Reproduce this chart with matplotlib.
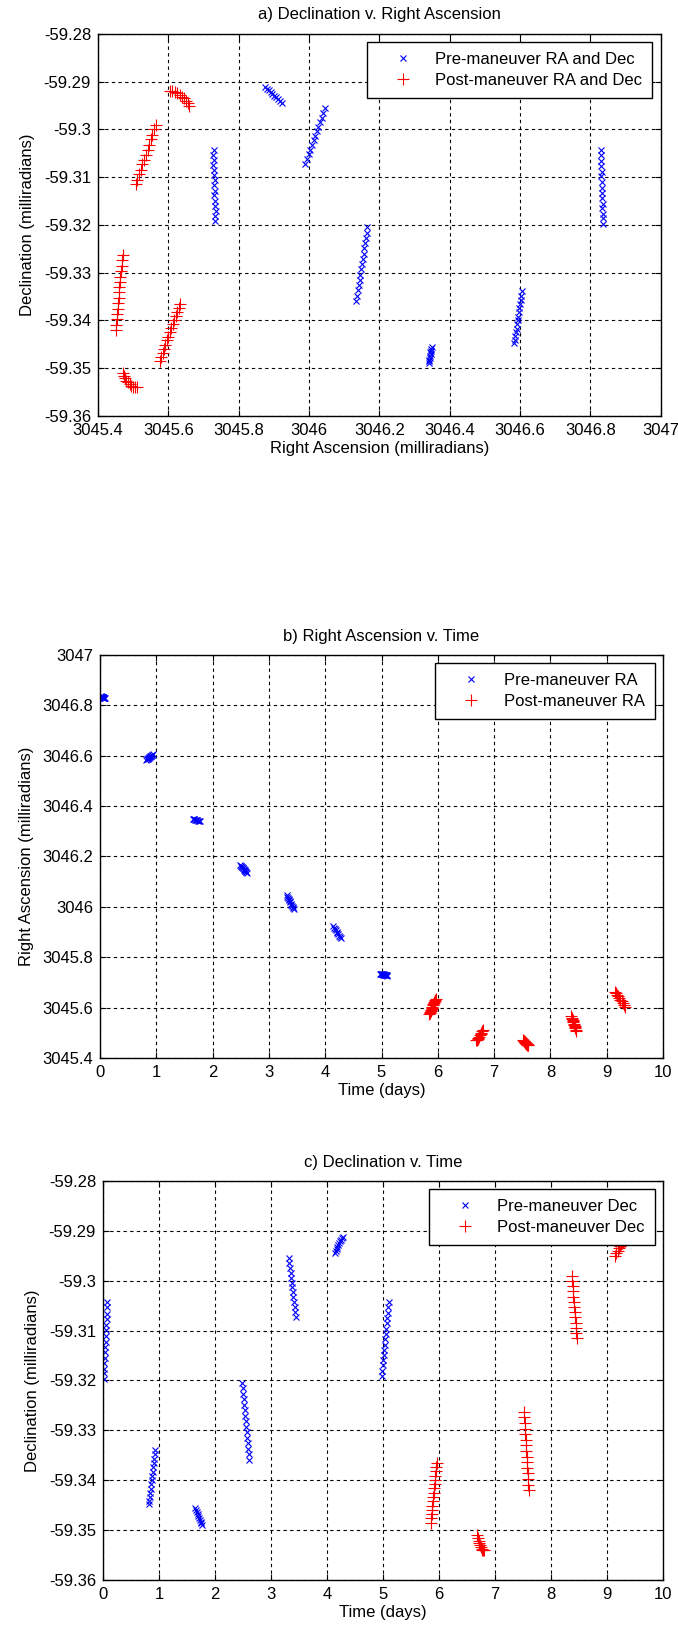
import numpy as np
import matplotlib
matplotlib.use('Agg')
import matplotlib.pyplot as plt
from matplotlib.ticker import MultipleLocator, FuncFormatter

plt.rcParams['font.family'] = ['Liberation Sans', 'DejaVu Sans']

# pre-maneuver passes (time in days, RA and Dec in milliradians)
pre_t = [
    0.010, 0.015, 0.020, 0.025, 0.030, 0.035, 0.040, 0.045, 0.050, 0.055, 0.060, 0.065, 0.070, 0.075, 0.080,
    0.820, 0.829, 0.838, 0.847, 0.856, 0.865, 0.874, 0.883, 0.892, 0.901, 0.910, 0.919, 0.928, 0.937,
    1.650, 1.663, 1.677, 1.690, 1.703, 1.717, 1.730, 1.743, 1.757, 1.770,
    2.490, 2.499, 2.507, 2.516, 2.524, 2.533, 2.541, 2.550, 2.559, 2.567, 2.576, 2.584, 2.593, 2.601, 2.610,
    3.320, 3.330, 3.340, 3.350, 3.360, 3.370, 3.380, 3.390, 3.400, 3.410, 3.420, 3.430, 3.440,
    4.140, 4.156, 4.171, 4.187, 4.202, 4.218, 4.233, 4.249, 4.264, 4.280,
    4.980, 4.989, 4.997, 5.006, 5.014, 5.023, 5.031, 5.040, 5.049, 5.057, 5.066, 5.074, 5.083, 5.091, 5.100,
]
pre_ra = [
    3046.836, 3046.835, 3046.836, 3046.834, 3046.835, 3046.833, 3046.834, 3046.832, 3046.833, 3046.831,
    3046.832, 3046.830, 3046.831, 3046.829, 3046.830,
    3046.584, 3046.586, 3046.587, 3046.589, 3046.590, 3046.592, 3046.593, 3046.595, 3046.597, 3046.598,
    3046.600, 3046.602, 3046.603, 3046.605,
    3046.349, 3046.347, 3046.348, 3046.345, 3046.346, 3046.343, 3046.344, 3046.341, 3046.342, 3046.340,
    3046.166, 3046.164, 3046.162, 3046.159, 3046.157, 3046.155, 3046.153, 3046.150, 3046.148, 3046.146,
    3046.144, 3046.141, 3046.139, 3046.137, 3046.135,
    3046.046, 3046.041, 3046.037, 3046.032, 3046.027, 3046.023, 3046.018, 3046.013, 3046.009, 3046.004,
    3045.999, 3045.995, 3045.990,
    3045.922, 3045.917, 3045.912, 3045.907, 3045.901, 3045.896, 3045.891, 3045.886, 3045.880, 3045.875,
    3045.734, 3045.733, 3045.735, 3045.732, 3045.733, 3045.731, 3045.733, 3045.730, 3045.732, 3045.729,
    3045.731, 3045.728, 3045.730, 3045.727, 3045.729,
]
pre_dec = [
    -59.3198, -59.3186, -59.3177, -59.3165, -59.3156, -59.3143, -59.3133, -59.3122, -59.3110, -59.3098,
    -59.3089, -59.3076, -59.3066, -59.3053, -59.3042,
    -59.3448, -59.3441, -59.3433, -59.3425, -59.3417, -59.3408, -59.3400, -59.3392, -59.3383, -59.3374,
    -59.3366, -59.3357, -59.3348, -59.3339,
    -59.3455, -59.3459, -59.3463, -59.3467, -59.3471, -59.3475, -59.3479, -59.3483, -59.3486, -59.3490,
    -59.3205, -59.3216, -59.3227, -59.3238, -59.3249, -59.3260, -59.3271, -59.3282, -59.3293, -59.3304,
    -59.3315, -59.3326, -59.3337, -59.3348, -59.3359,
    -59.2955, -59.2965, -59.2975, -59.2984, -59.2994, -59.3004, -59.3013, -59.3023, -59.3033, -59.3043,
    -59.3052, -59.3062, -59.3072,
    -59.2945, -59.2941, -59.2937, -59.2933, -59.2929, -59.2925, -59.2921, -59.2918, -59.2915, -59.2912,
    -59.3192, -59.3181, -59.3170, -59.3160, -59.3149, -59.3138, -59.3128, -59.3117, -59.3106, -59.3096,
    -59.3085, -59.3074, -59.3064, -59.3053, -59.3042,
]

# post-maneuver passes
post_t = [
    5.850, 5.858, 5.866, 5.874, 5.881, 5.889, 5.897, 5.905, 5.913, 5.921, 5.929, 5.936, 5.944, 5.952, 5.960,
    6.680, 6.693, 6.707, 6.720, 6.733, 6.747, 6.760, 6.773, 6.787, 6.800,
    7.520, 7.526, 7.531, 7.537, 7.543, 7.549, 7.554, 7.560, 7.566, 7.571, 7.577, 7.583, 7.589, 7.594, 7.600,
    8.370, 8.378, 8.385, 8.393, 8.400, 8.408, 8.415, 8.423, 8.430, 8.438, 8.445, 8.453, 8.460,
    9.150, 9.169, 9.188, 9.207, 9.226, 9.244, 9.263, 9.282, 9.301, 9.320,
]
post_ra = [
    3045.576, 3045.580, 3045.584, 3045.588, 3045.592, 3045.596, 3045.600, 3045.604, 3045.609, 3045.613,
    3045.617, 3045.621, 3045.625, 3045.629, 3045.633,
    3045.470, 3045.473, 3045.477, 3045.481, 3045.485, 3045.490, 3045.495, 3045.500, 3045.506, 3045.512,
    3045.470, 3045.469, 3045.467, 3045.466, 3045.464, 3045.463, 3045.461, 3045.460, 3045.459, 3045.457,
    3045.456, 3045.454, 3045.453, 3045.451, 3045.450,
    3045.565, 3045.560, 3045.555, 3045.551, 3045.546, 3045.541, 3045.536, 3045.531, 3045.526, 3045.522,
    3045.517, 3045.512, 3045.507,
    3045.660, 3045.656, 3045.651, 3045.645, 3045.639, 3045.632, 3045.625, 3045.618, 3045.611, 3045.604,
]
post_dec = [
    -59.3485, -59.3476, -59.3468, -59.3459, -59.3451, -59.3442, -59.3434, -59.3425, -59.3416, -59.3408,
    -59.3399, -59.3391, -59.3382, -59.3374, -59.3365,
    -59.3510, -59.3516, -59.3521, -59.3526, -59.3530, -59.3534, -59.3537, -59.3539, -59.3540, -59.3540,
    -59.3263, -59.3274, -59.3285, -59.3297, -59.3308, -59.3319, -59.3330, -59.3341, -59.3353, -59.3364,
    -59.3375, -59.3386, -59.3397, -59.3409, -59.3420,
    -59.2990, -59.3000, -59.3011, -59.3021, -59.3032, -59.3042, -59.3053, -59.3063, -59.3073, -59.3084,
    -59.3094, -59.3105, -59.3115,
    -59.2950, -59.2945, -59.2940, -59.2935, -59.2931, -59.2927, -59.2924, -59.2922, -59.2920, -59.2920,
]

fs = 12
fmt = FuncFormatter(lambda v, p: '%g' % round(v, 6))


def style_axes(ax, xlim, ylim, xstep, ystep):
    ax.set_xlim(*xlim)
    ax.set_ylim(*ylim)
    ax.xaxis.set_major_locator(MultipleLocator(xstep))
    ax.yaxis.set_major_locator(MultipleLocator(ystep))
    ax.xaxis.set_major_formatter(fmt)
    ax.yaxis.set_major_formatter(fmt)
    ax.tick_params(direction='in', top=True, right=True, length=4, width=0.8,
                   labelsize=fs, pad=5)
    ax.grid(True, color='black', linestyle=(0, (3, 3)), linewidth=0.8)
    for s in ax.spines.values():
        s.set_linewidth(1.0)


def add_legend(ax, labels):
    leg = ax.legend(labels, loc='upper right', fontsize=fs, frameon=True, fancybox=False,
                    framealpha=1, edgecolor='black', borderpad=0.6, labelspacing=0.35,
                    handlelength=3.1, handletextpad=0.4, borderaxespad=0.5, numpoints=1)
    leg.get_frame().set_linewidth(1.0)


fig = plt.figure(figsize=(6.78, 16.42), dpi=100)

mk_pre = dict(linestyle='none', marker='x', color='blue', markersize=5, markeredgewidth=0.8)
mk_post = dict(linestyle='none', marker='+', color='red', markersize=8, markeredgewidth=0.8)

# a) Dec v. RA
ax1 = fig.add_axes([0.1445, 0.7467, 0.830, 0.2326])
ax1.plot(pre_ra, pre_dec, **mk_pre)
ax1.plot(post_ra, post_dec, **mk_post)
style_axes(ax1, (3045.4, 3047), (-59.36, -59.28), 0.2, 0.01)
ax1.set_title('a) Declination v. Right Ascension', fontsize=fs, pad=11)
ax1.set_xlabel('Right Ascension (milliradians)', fontsize=fs, labelpad=2)
ax1.set_ylabel('Declination (milliradians)', fontsize=fs, labelpad=6)
add_legend(ax1, ['Pre-maneuver RA and Dec', 'Post-maneuver RA and Dec'])

# b) RA v. time
ax2 = fig.add_axes([0.1475, 0.3557, 0.8304, 0.2454])
ax2.plot(pre_t, pre_ra, **mk_pre)
ax2.plot(post_t, post_ra, **mk_post)
style_axes(ax2, (0, 10), (3045.4, 3047), 1, 0.2)
ax2.set_title('b) Right Ascension v. Time', fontsize=fs, pad=10)
ax2.set_xlabel('Time (days)', fontsize=fs, labelpad=2)
ax2.set_ylabel('Right Ascension (milliradians)', fontsize=fs, labelpad=6)
add_legend(ax2, ['Pre-maneuver RA', 'Post-maneuver RA'])

# c) Dec v. time
ax3 = fig.add_axes([0.1519, 0.0378, 0.826, 0.2430])
ax3.plot(pre_t, pre_dec, **mk_pre)
ax3.plot(post_t, post_dec, **mk_post)
style_axes(ax3, (0, 10), (-59.36, -59.28), 1, 0.01)
ax3.set_title('c) Declination v. Time', fontsize=fs, pad=10)
ax3.set_xlabel('Time (days)', fontsize=fs, labelpad=2)
ax3.set_ylabel('Declination (milliradians)', fontsize=fs, labelpad=6)
add_legend(ax3, ['Pre-maneuver Dec', 'Post-maneuver Dec'])

fig.savefig('out.png', dpi=100)
